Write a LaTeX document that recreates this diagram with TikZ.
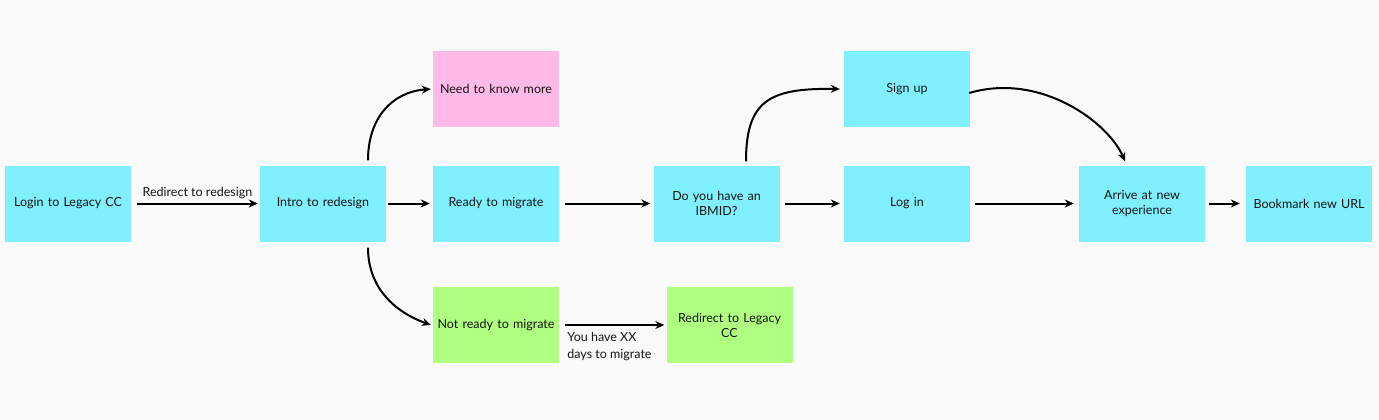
\documentclass[tikz,border=0pt]{standalone}
\usepackage{fontspec}
\setmainfont{Lato}
\usetikzlibrary{arrows.meta}
\definecolor{bg}{RGB}{250,250,250}
\definecolor{cyanbox}{RGB}{128,240,255}
\definecolor{pinkbox}{RGB}{255,186,232}
\definecolor{greenbox}{RGB}{175,255,128}
\definecolor{ink}{RGB}{20,20,20}
\tikzset{
  box/.style={minimum width=126pt,minimum height=76pt,inner sep=2pt,align=center,text width=118pt,font=\fontsize{12.5}{15}\selectfont,text=ink},
  cbox/.style={box,fill=cyanbox},
  pbox/.style={box,fill=pinkbox},
  gbox/.style={box,fill=greenbox},
  conn/.style={line width=2pt,draw=black,-{Stealth[length=9pt,width=8pt]}},
  lbl/.style={font=\fontsize{12.5}{17}\selectfont,text=ink,inner sep=0pt}
}
\begin{document}
\begin{tikzpicture}[x=1pt,y=-1pt]
\fill[bg] (0,0) rectangle (1379,420);
\useasboundingbox (0,0) rectangle (1379,420);
\node[cbox] (login) at (68,203.5) {Login to Legacy CC};
\node[cbox] (intro) at (323,203.5) {Intro to redesign};
\node[pbox] (need) at (496,89) {Need to know more};
\node[cbox] (ready) at (496,203.5) {Ready to migrate};
\node[cbox] (ibm) at (716.5,203.5) {Do you have an\\IBMID?};
\node[cbox] (sign) at (907,89) {Sign up};
\node[cbox] (logn) at (907,203.5) {Log in};
\node[cbox] (arrive) at (1142,203.5) {Arrive at new\\experience};
\node[cbox] (book) at (1309,203.5) {Bookmark new URL};
\node[gbox] (notr) at (496,325) {Not ready to migrate};
\node[gbox] (redir) at (729.5,325) {Redirect to Legacy\\CC};

\draw[conn] ([xshift=6pt]login.east) -- ([xshift=-2pt]intro.west)
  node[lbl,midway,above=4pt] (l1) {Redirect to redesign};
\draw[conn] ([xshift=2pt]intro.east) -- ([xshift=-3pt]ready.west);
\draw[conn] ([xshift=6pt]ready.east) -- ([xshift=-3pt]ibm.west);
\draw[conn] ([xshift=5pt]ibm.east) -- ([xshift=-4pt]logn.west);
\draw[conn] ([xshift=5pt]logn.east) -- ([xshift=-5pt]arrive.west);
\draw[conn] ([xshift=4pt]arrive.east) -- ([xshift=-6pt]book.west);
\draw[conn] ([xshift=6pt]notr.east) -- ([xshift=-2pt]redir.west);
\node[lbl,anchor=north west,align=left] (l2) at ([shift={(8,7)}]notr.east) {You have XX\\days to migrate};

\draw[conn] ([shift={(45,-5)}]intro.north) .. controls (368,118) and (392,92) .. ([xshift=-2pt]need.west);
\draw[conn] ([shift={(45,6)}]intro.south) .. controls (368,288) and (395,312) .. ([xshift=-2pt]notr.west);
\draw[conn] ([shift={(29.5,-4)}]ibm.north) .. controls (746,100) and (770,88) .. ([xshift=-4pt]sign.west);
\draw[conn] ([shift={(-1,4)}]sign.east) .. controls (1040,72) and (1108,122) .. ([shift={(-17,-4)}]arrive.north);
\end{tikzpicture}
\end{document}
